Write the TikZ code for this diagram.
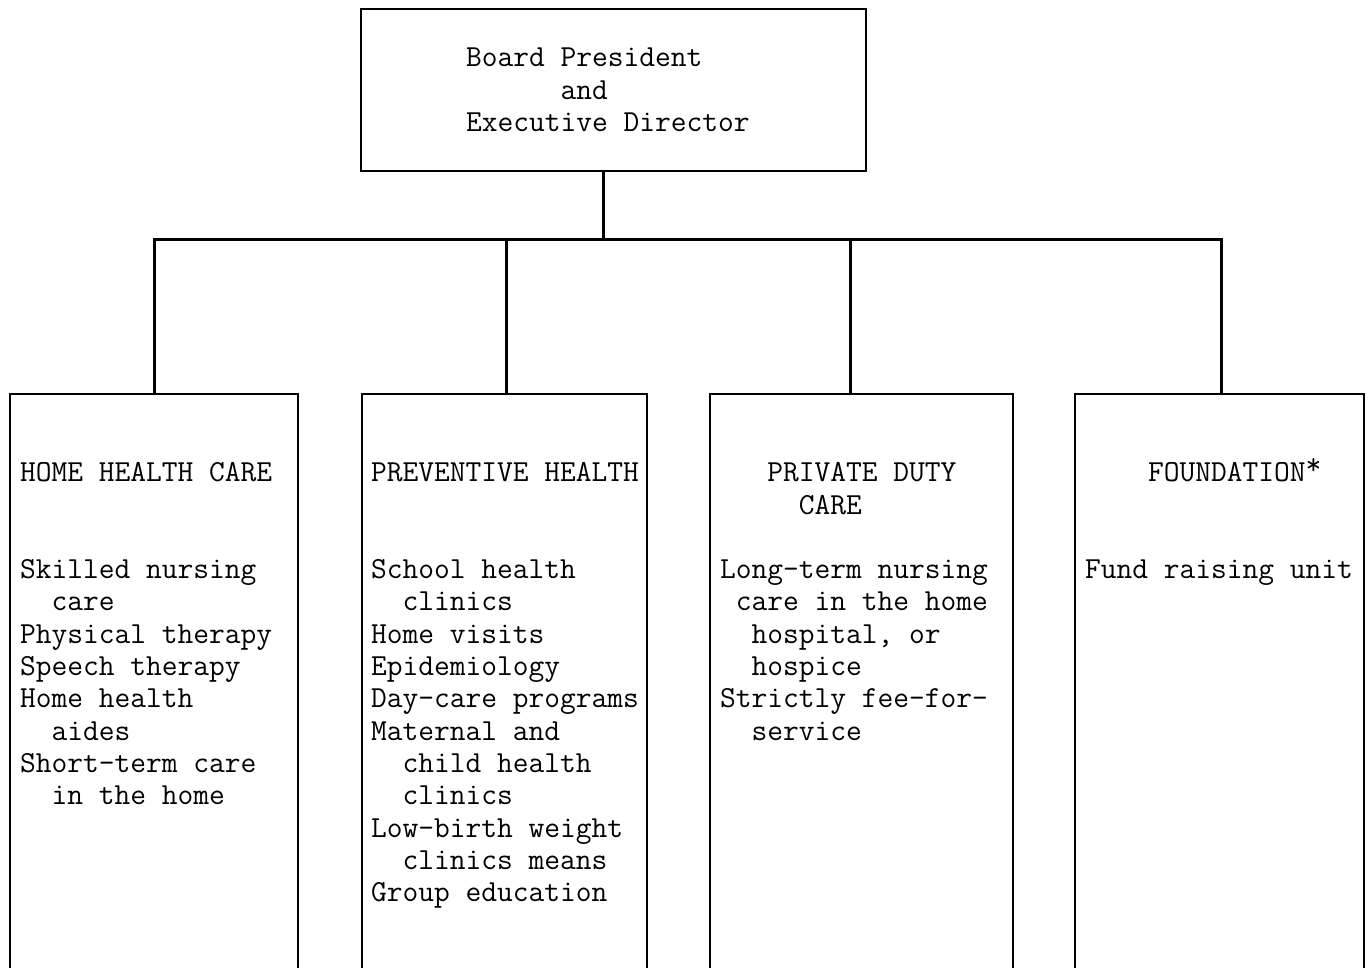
\documentclass[tikz,border=0pt]{standalone}
\usepackage{fontspec}
\begin{document}
\begin{tikzpicture}[x=1pt,y=-1pt,
  boxline/.style={draw=black,line width=1.8pt,inner sep=0pt,outer sep=0pt,anchor=north west},
  conn/.style={draw=black,line width=3pt},
  txt/.style={anchor=base west,inner sep=0pt,outer sep=0pt,font=\ttfamily\fontsize{30.6}{32.3}\selectfont}]
\clip (0,0) rectangle (1372,968);
\fill[white] (0,0) rectangle (1372,968);
% boxes
\node[boxline,minimum width=505pt,minimum height=162pt] (top) at (361,9) {};
\node[boxline,minimum width=288pt,minimum height=640pt] (hhc) at (10,394) {};
\node[boxline,minimum width=285pt,minimum height=640pt] (ph) at (362,394) {};
\node[boxline,minimum width=303pt,minimum height=640pt] (pdc) at (710,394) {};
\node[boxline,minimum width=289pt,minimum height=640pt] (fnd) at (1075,394) {};
% connectors
\coordinate (bus) at (603,240);
\draw[conn] ([xshift=-10.5pt]top.south) -- ([xshift=-10.5pt]top.south |- bus);
\draw[conn] (hhc.north) -- (hhc.north |- bus) -- ([xshift=1.5pt]fnd.north |- bus) -- ([xshift=1.5pt]fnd.north);
\draw[conn] ([xshift=1.5pt]ph.north) -- ([xshift=1.5pt]ph.north |- bus);
\draw[conn] ([xshift=-11.5pt]pdc.north) -- ([xshift=-11.5pt]pdc.north |- bus);
% texts
\foreach \k/\t [count=\n] in {0/{Board President},1/{~~~~~~and},2/{Executive Director}}
  \node[txt] (tl\n) at (466,66.7+32.5*\k) {\t};
\foreach \k/\t [count=\n] in {0/{HOME HEALTH CARE},3/{Skilled nursing},4/{~~care},5/{Physical therapy},6/{Speech therapy},7/{Home health},8/{~~aides},9/{Short-term care},10/{~~in the home}}
  \node[txt] (ha\n) at (20,481.7+32.3*\k) {\t};
\foreach \k/\t [count=\n] in {0/{PREVENTIVE HEALTH},3/{School health},4/{~~clinics},5/{Home visits},6/{Epidemiology},7/{Day-care programs},8/{Maternal and},9/{~~child health},10/{~~clinics},11/{Low-birth weight},12/{~~clinics means},13/{Group education}}
  \node[txt] (pa\n) at (371,481.7+32.3*\k) {\t};
\foreach \k/\t [count=\n] in {0/{~~~PRIVATE DUTY},1/{~~~~~CARE},3/{Long-term nursing},4/{~care in the home},5/{~~hospital, or},6/{~~hospice},7/{Strictly fee-for-},8/{~~service}}
  \node[txt] (da\n) at (720,481.7+32.3*\k) {\t};
\node[txt] (fa1) at (1085,481.7) {~~~~FOUNDATION\raisebox{7pt}{*}};
\node[txt] (fa2) at (1085,481.7+32.3*3) {Fund raising unit};
\end{tikzpicture}
\end{document}
